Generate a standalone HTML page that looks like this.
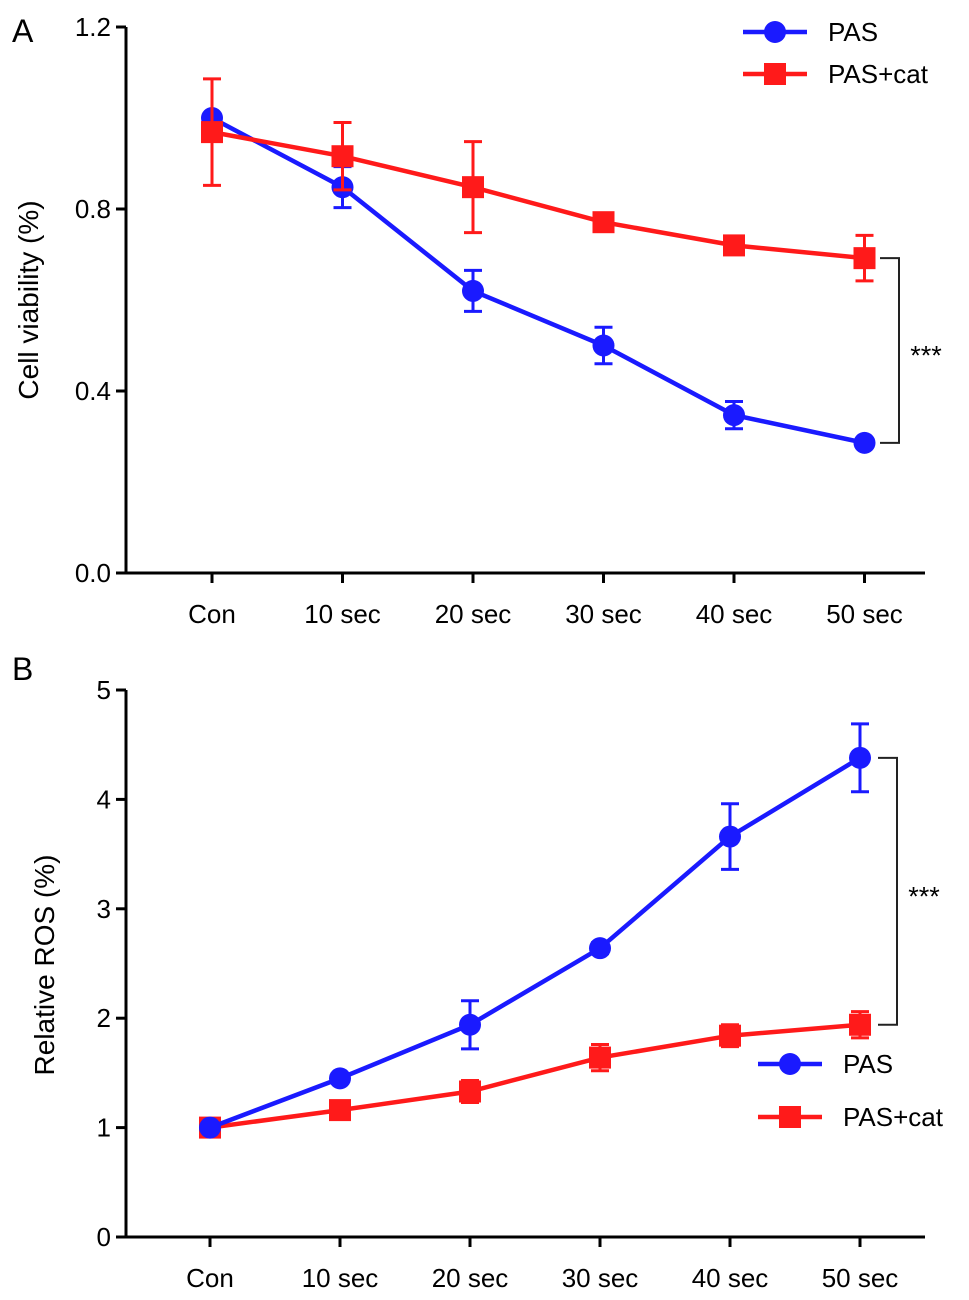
<!DOCTYPE html>
<html><head><meta charset="utf-8"><style>
body{margin:0;background:#fff}
svg{display:block;font-family:"Liberation Sans",Arial,sans-serif}
</style></head><body>
<svg id="chart" width="969" height="1300" viewBox="0 0 969 1300"></svg>
<script>
const categories=["Con","10 sec","20 sec","30 sec","40 sec","50 sec"];
const aPas=[1.0,0.848,0.62,0.50,0.347,0.286];
const aPasErr=[0.01,0.045,0.045,0.04,0.03,0.01];
const aCat=[0.969,0.916,0.848,0.771,0.72,0.692];
const aCatErr=[0.117,0.074,0.1,0.02,0.02,0.05];
const aTicks=[0.0,0.4,0.8,1.2];
const bPas=[1.0,1.45,1.94,2.64,3.66,4.38];
const bPasErr=[0.02,0.04,0.22,0.05,0.3,0.31];
const bCat=[1.0,1.16,1.33,1.64,1.84,1.94];
const bCatErr=[0.02,0.08,0.1,0.12,0.1,0.12];
const bTicks=[0,1,2,3,4,5];

const svg=document.getElementById('chart');
const NS='http://www.w3.org/2000/svg';
function mk(tag,attrs,parent,text){const e=document.createElementNS(NS,tag);for(const k in attrs)e.setAttribute(k,attrs[k]);if(text!==undefined)e.textContent=text;(parent||svg).appendChild(e);return e;}

function panel(cfg){
  const g=mk('g',{});
  
  
  const y=v=>cfg.y0-(v-cfg.vmin)/(cfg.vmax-cfg.vmin)*(cfg.y0-cfg.y1);
  const x=i=>cfg.xs+i*cfg.dx;
  const ya=mk('line',{x1:cfg.ax,y1:cfg.y1,x2:cfg.ax,y2:cfg.y0+1.5,stroke:'#000','stroke-width':3},g);
  
  const xa=mk('line',{x1:cfg.ax-1.5,y1:cfg.y0,x2:cfg.xe,y2:cfg.y0,stroke:'#000','stroke-width':3},g);
  
  cfg.ticks.forEach(t=>{
    mk('line',{x1:cfg.ax-10,y1:y(t),x2:cfg.ax,y2:y(t),stroke:'#000','stroke-width':3},g);
    const tl=mk('text',{x:cfg.ax-15,y:y(t)+9,'text-anchor':'end','font-size':26},g,cfg.fmt(t));
    
  });
  categories.forEach((c,i)=>{
    mk('line',{x1:x(i),y1:cfg.y0,x2:x(i),y2:cfg.y0+10,stroke:'#000','stroke-width':3},g);
    const tl=mk('text',{x:x(i),y:cfg.y0+50,'text-anchor':'middle','font-size':26},g,c);
    
  });
  const yt=mk('text',{x:0,y:0,'text-anchor':'middle','font-size':28,transform:`translate(${cfg.ytx},${cfg.yty}) rotate(-90)`},g,cfg.ytitle);
  
  const pl=mk('text',{x:12,y:cfg.ply,'font-size':32},g,cfg.label);
  
  const series=[{v:cfg.pas,e:cfg.pasErr,c:'#1a1aff',m:'circle',n:'pas'},{v:cfg.cat,e:cfg.catErr,c:'#ff1a1a',m:'square',n:'pas-cat'}];
  const order=cfg.catFirst?[series[1],series[0]]:series;
  order.forEach(s=>{
    const sg=mk('g',{},g);
    
    s.v.forEach((v,i)=>{
      const hi=y(v+s.e[i]),lo=y(v-s.e[i]);
      mk('line',{x1:x(i),y1:hi,x2:x(i),y2:lo,stroke:s.c,'stroke-width':3},sg);
      mk('line',{x1:x(i)-9,y1:hi,x2:x(i)+9,y2:hi,stroke:s.c,'stroke-width':3},sg);
      mk('line',{x1:x(i)-9,y1:lo,x2:x(i)+9,y2:lo,stroke:s.c,'stroke-width':3},sg);
    });
    const ln=mk('polyline',{points:s.v.map((v,i)=>x(i)+','+y(v)).join(' '),fill:'none',stroke:s.c,'stroke-width':4.5},sg);
    
    s.v.forEach((v,i)=>{
      let p;
      if(s.m==='circle')p=mk('circle',{cx:x(i),cy:y(v),r:11,fill:s.c},sg);
      else p=mk('rect',{x:x(i)-11,y:y(v)-11,width:22,height:22,fill:s.c},sg);
      
    });
  });
  cfg.leg.forEach((L,k)=>{
    const s=series[k];
    const lg=mk('g',{},g);
    
    mk('line',{x1:L[0]-32,y1:L[1],x2:L[0]+32,y2:L[1],stroke:s.c,'stroke-width':4.5},lg);
    if(s.m==='circle')mk('circle',{cx:L[0],cy:L[1],r:11,fill:s.c},lg);
    else mk('rect',{x:L[0]-11,y:L[1]-11,width:22,height:22,fill:s.c},lg);
    mk('text',{x:L[0]+53,y:L[1]+9,'font-size':26},lg,k===0?'PAS':'PAS+cat');
  });
  const bk=mk('g',{},g);
  
  const ya2=y(cfg.bk[0]),yb2=y(cfg.bk[1]);
  mk('polyline',{points:`${cfg.bx},${ya2} ${cfg.bx+19},${ya2} ${cfg.bx+19},${yb2} ${cfg.bx},${yb2}`,fill:'none',stroke:'#222','stroke-width':2},bk);
  mk('text',{x:cfg.bx+46,y:(ya2+yb2)/2+14,'text-anchor':'middle','font-size':27},bk,'***');
}

panel({name:'panel-a-cell-viability',label:'A',ply:42,ax:126,xe:925,y0:573,y1:27,vmin:0,vmax:1.2,xs:212,dx:130.5,
 ticks:aTicks,fmt:t=>t.toFixed(1),ytitle:'Cell viability (%)',ytx:38,yty:300,
 pas:aPas,pasErr:aPasErr,cat:aCat,catErr:aCatErr,catFirst:false,
 leg:[[775,32],[775,74]],bk:[aCat[5],aPas[5]],bx:880});
panel({name:'panel-b-relative-ros',label:'B',ply:680,ax:126,xe:925,y0:1237,y1:690,vmin:0,vmax:5,xs:210,dx:130,
 ticks:bTicks,fmt:t=>String(t),ytitle:'Relative ROS (%)',ytx:54,yty:965,
 pas:bPas,pasErr:bPasErr,cat:bCat,catErr:bCatErr,catFirst:true,
 leg:[[790,1064],[790,1117]],bk:[bPas[5],bCat[5]],bx:878});
</script>
</body></html>
